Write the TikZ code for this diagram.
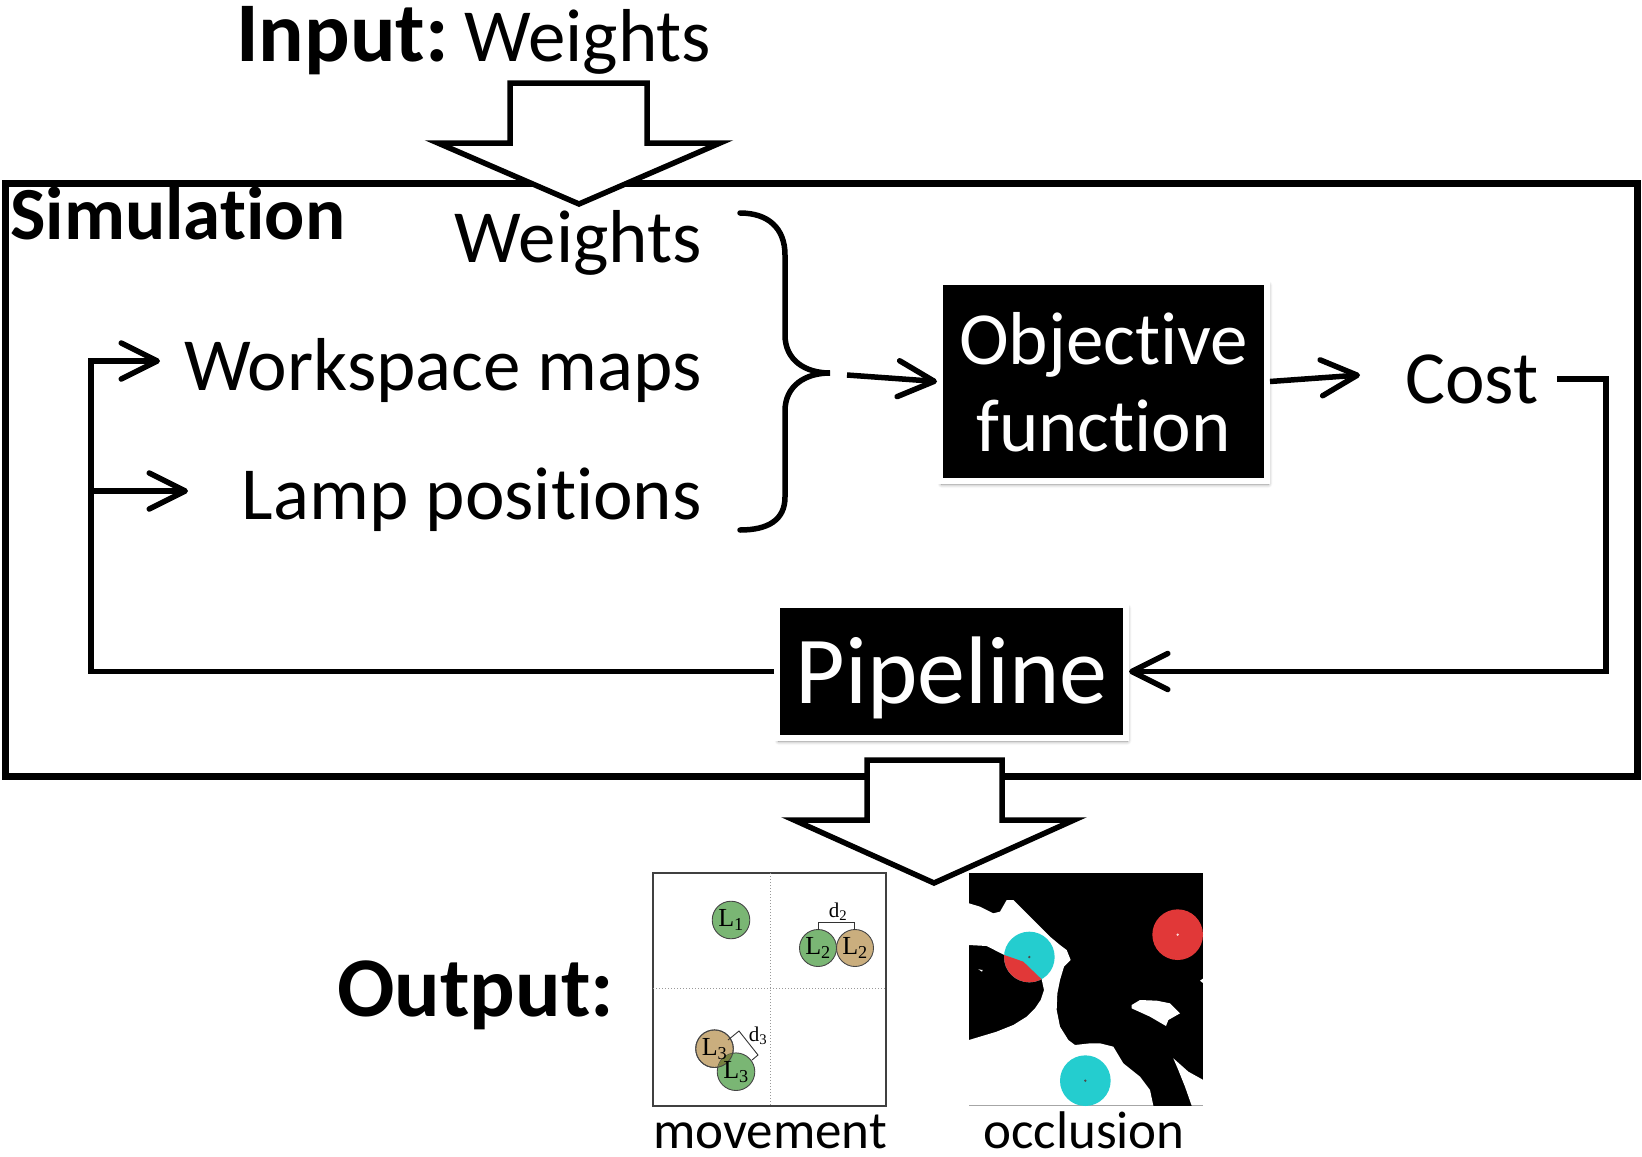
\documentclass[tikz,border=0pt]{standalone}
\usepackage{fontspec}
\setmainfont[Ligatures=NoCommon]{Carlito}
\newfontfamily\lserif{Liberation Serif}
\usetikzlibrary{arrows.meta,shadows.blur}

\newcommand\setfs[1]{\fontsize{#1}{#1}\selectfont}

\definecolor{lampgreen}{RGB}{122,182,116}
\definecolor{lamptan}{RGB}{202,174,126}
\definecolor{lampolive}{RGB}{118,128,62}
\definecolor{lampedge}{RGB}{70,70,70}
\definecolor{occcyan}{RGB}{36,205,207}
\definecolor{occred}{RGB}{225,56,56}

\tikzset{
  lbl/.style={inner sep=0pt, font=\setfs{75}},
  wlbl/.style={inner sep=0pt, font=\setfs{75}, text=white},
  blk/.style={fill=black, draw=white, line width=6pt, inner sep=0pt,
    blur shadow={shadow xshift=1.5pt, shadow yshift=-3pt, shadow blur steps=6,
                 shadow blur radius=4pt, shadow opacity=45}},
  conn/.style={line width=5.5pt, line join=miter},
  tip/.style={-{Straight Barb[length=36pt,width=36pt,round]}},
  bigarrow/.style={fill=white, draw=black, line width=5.5pt, line join=miter},
  lamp/.style={draw=lampedge, line width=0.9pt},
  lamplbl/.style={inner sep=0pt, font=\lserif\setfs{26}},
}

\begin{document}
\begin{tikzpicture}[x=1pt,y=-1pt]
\useasboundingbox (0,0) rectangle (1642,1157);

% ---------- simulation frame ----------
\node[draw, line width=7pt, minimum width=1632pt, minimum height=593pt, inner sep=0pt]
  (sim) at (821,479.5) {};
\node[lbl, anchor=base west] (simtitle) at (10,239) {\setfs{75}\bfseries Simulation};

% ---------- input ----------
\node[lbl, anchor=base west] (input) at (236,61) {\setfs{85}\bfseries Input:};
\node[lbl, anchor=base west] (inputw) at (464,61) {Weights};
\draw[bigarrow] (510,83) -- (647,83) -- (647,143) -- (720,143) -- (579,204)
  -- (438,143) -- (510,143) -- cycle;

% ---------- inputs of the objective ----------
\node[lbl, anchor=base east] (wts) at (702,262) {Weights};
\node[lbl, anchor=base east] (wsmaps) at (702,390) {Workspace maps};
\node[lbl, anchor=base east] (lamppos) at (702,519) {Lamp positions};

% curly brace gathering the three inputs
\draw[conn, line cap=round] (740,213) .. controls (768,213) and (785,228) .. (785,255)
  -- (785,335) .. controls (785,360) and (805,373) .. (830,373)
  .. controls (805,373) and (785,386) .. (785,411)
  -- (785,497) .. controls (785,520) and (768,530) .. (740,530);

% ---------- objective function and cost ----------
\node[blk, minimum width=327pt, minimum height=199pt] (obj) at (1103.5,381.5) {};
\node[wlbl, anchor=base] (objl1) at (1103.5,364) {Objective};
\node[wlbl, anchor=base] (objl2) at (1103.5,451) {function};

\node[lbl, anchor=base west] (cost) at (1405,403) {Cost};

\coordinate (objin) at (847,375);
\coordinate (costin) at (1360,375);
\coordinate (costout) at (1557,379);
\draw[conn, tip] (objin) -- (obj.west);
\draw[conn, tip] (obj.east) -- (costin);

% ---------- pipeline and feedback loop ----------
\node[blk, minimum width=349pt, minimum height=133pt] (pip) at (951.5,671.5) {};
\node[wlbl, anchor=base, font=\setfs{96}] (pipl) at (951.5,703) {Pipeline};

\draw[conn, tip] (costout) -- (1606,379) |- (pip.east);

\coordinate (wsin) at (160,361);
\coordinate (lpin) at (188,491);
\coordinate (split) at (88,491);
\draw[conn, tip] (pip.west) -| (91,361) -- (wsin);
\draw[conn, tip] (split) -- (lpin);

% ---------- output ----------
\draw[bigarrow] (867,760) -- (1002,760) -- (1002,820) -- (1074,820) -- (934,883)
  -- (794,820) -- (867,820) -- cycle;
\node[lbl, anchor=base west] (output) at (337,1016) {\setfs{85}\bfseries Output:};

% movement panel
\draw[draw=black!75, line width=1.2pt] (653,873) rectangle (886,1106);
\draw[gray!80, dotted, line width=1pt] (770,873) -- (770,1106);
\draw[gray!80, dotted, line width=1pt] (653,988) -- (886,988);

\filldraw[lamp, fill=lampgreen] (731,920) circle[radius=18.8pt];
\filldraw[lamp, fill=lampgreen] (818,948) circle[radius=18.5pt];
\filldraw[lamp, fill=lamptan] (855,948) circle[radius=18.5pt];
\filldraw[lamp, fill=lamptan] (714.5,1048.7) circle[radius=18.8pt];
\filldraw[lamp, fill=lampgreen] (736,1071.7) circle[radius=18.8pt];
\begin{scope}
  \clip (714.5,1048.7) circle[radius=18.8pt];
  \fill[lampolive] (736,1071.7) circle[radius=18.8pt];
\end{scope}
\draw[lampedge, line width=0.9pt] (714.5,1048.7) circle[radius=18.8pt];

\draw[black!80, line width=0.9pt] (818,930) -- (818,922) -- (854,922) -- (854,930);
\draw[black!80, line width=0.9pt] (728,1040) -- (739,1031) -- (758,1055) -- (752,1060);

\node[lamplbl] (l1) at (731,920) {L\textsubscript{1}};
\node[lamplbl] (l2a) at (818,948) {L\textsubscript{2}};
\node[lamplbl] (l2b) at (855,948) {L\textsubscript{2}};
\node[lamplbl] (l3a) at (714.5,1048.7) {L\textsubscript{3}};
\node[lamplbl] (l3b) at (736,1071.7) {L\textsubscript{3}};
\node[lamplbl, font=\lserif\setfs{21}] (d2) at (838,912) {d\textsubscript{2}};
\node[lamplbl, font=\lserif\setfs{21}] (d3) at (758,1036) {d\textsubscript{3}};

\node[lbl, anchor=base, font=\setfs{53}] (movlbl) at (770,1148) {movement};

% occlusion panel
\begin{scope}[shift={(950,860)}, scale=1/3]
  \fill[black] (57,40) rectangle (760,737);
  % free floor space
  \fill[white] (57,130) -- (90,140) -- (130,160) -- (150,155) -- (170,120) -- (190,120)
    -- (210,140) -- (240,170) -- (270,200) -- (300,230) -- (330,255) -- (350,270)
    -- (362,300) -- (342,320) -- (330,360) -- (322,400) -- (320,450) -- (330,500)
    -- (355,540) -- (375,555) -- (420,550) -- (450,550) -- (490,560) -- (520,610)
    -- (570,650) -- (600,690) -- (610,737) -- (57,737) -- (57,540) -- (90,530)
    -- (140,515) -- (190,495) -- (230,470) -- (255,445) -- (272,420) -- (282,390)
    -- (275,358) -- (220,305) -- (163,285) -- (110,258) -- (57,255) -- cycle;
  \fill[white] (545,435) -- (570,420) -- (620,422) -- (660,430) -- (690,460)
    -- (655,480) -- (648,498) -- (600,470) -- (545,445) -- cycle;
  \fill[white] (670,595) -- (715,635) -- (760,660) -- (760,737) -- (725,737)
    -- (705,680) -- (685,630) -- cycle;
  \fill[white] (750,362) -- (760,355) -- (760,370) -- cycle;
  \fill[white] (85,328) -- (98,330) -- (96,335) -- cycle;
  % lamps
  \fill[occcyan] (238,291) circle[radius=76];
  \begin{scope}
    \clip (57,255) -- (110,258) -- (163,285) -- (220,305) -- (275,358) -- (282,390)
      -- (272,420) -- (255,445) -- (230,470) -- (190,495) -- (140,515) -- (90,530)
      -- (57,540) -- cycle;
    \fill[occred] (238,291) circle[radius=76];
  \end{scope}
  \fill[occcyan] (406,662) circle[radius=76];
  \fill[occred] (683,224) circle[radius=76];
  \fill[black!70] (238,291) circle[radius=4];
  \fill[black!70] (406,662) circle[radius=4];
  \fill[white!80!occred] (683,224) circle[radius=4];
\end{scope}
\node[lbl, anchor=base, font=\setfs{53}] (occlbl) at (1084,1148) {occlusion};

\end{tikzpicture}
\end{document}
